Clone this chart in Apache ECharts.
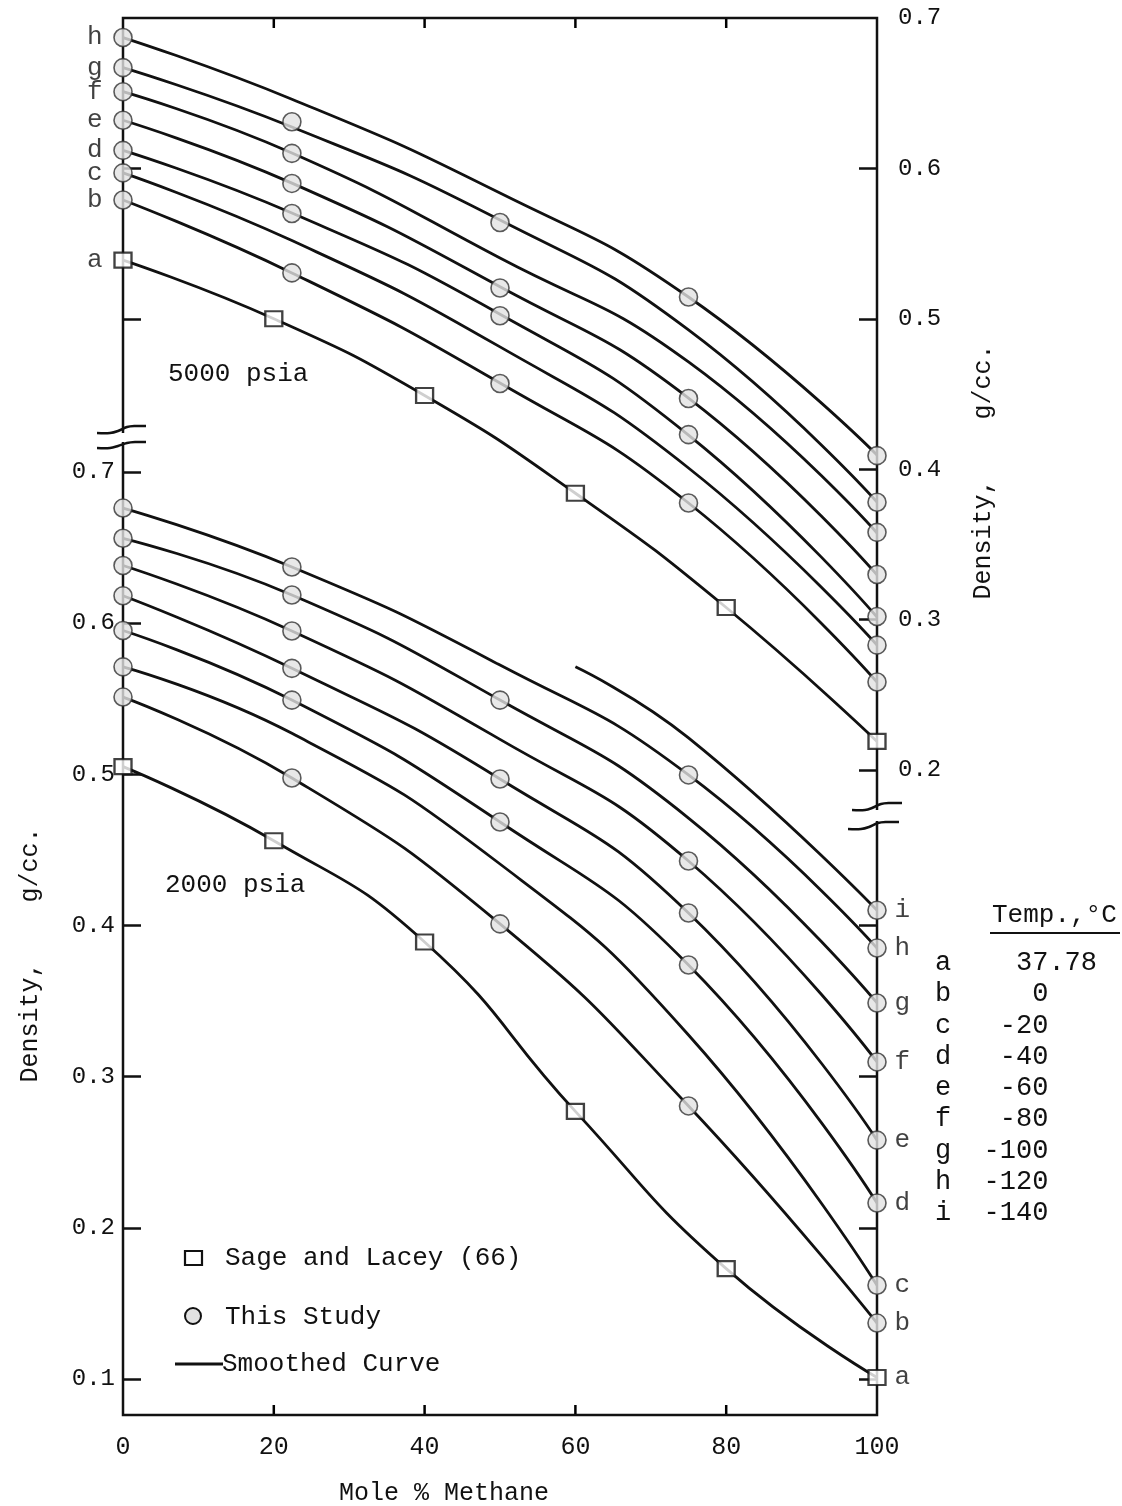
<!DOCTYPE html>
<html><head><meta charset="utf-8">
<script src="https://cdn.jsdelivr.net/npm/echarts@6/dist/echarts.min.js"></script>
<style>html,body{margin:0;padding:0;background:#fff}#c{width:1122px;height:1506px}</style>
</head><body><div id="c"></div>
<script>
// ---------- data ----------
const xMin = 0, xMax = 100, xStep = 20;                          // x axis: 0,20,...,100
const xTickValues = [20, 40, 60, 80];                            // small inner ticks, top and bottom
const leftTickValues = [0.1, 0.2, 0.3, 0.4, 0.5, 0.6, 0.7];      // 2000 psia scale
const leftTopTickValues = [0.5, 0.6];                            // 5000 psia scale, left side
const rightLabelValues = [0.2, 0.3, 0.4, 0.5, 0.6, 0.7];         // 5000 psia scale
const rightTickValues = [0.2, 0.3, 0.4, 0.5, 0.6];
const rightBottomTickValues = [0.1, 0.2, 0.3, 0.4];              // 2000 psia scale, right side

const letters5000 = ['a', 'b', 'c', 'd', 'e', 'f', 'g', 'h'];
const letters2000 = ['a', 'b', 'c', 'd', 'e', 'f', 'g', 'h', 'i'];

// smoothed curves, 5000 psia  [mole % methane, density g/cc]
const curves5000 = [
  [[0, 0.539], [20, 0.500], [40, 0.449], [60, 0.384], [80, 0.308], [100, 0.219]],   // a
  [[0, 0.579], [22.4, 0.5305], [50, 0.4573], [75, 0.3775], [100, 0.2585]],          // b
  [[0, 0.597], [22.4, 0.552], [50, 0.4813], [75, 0.4008], [100, 0.2831]],           // c
  [[0, 0.612], [22.4, 0.5703], [50, 0.5030], [75, 0.4227], [100, 0.3017]],          // d
  [[0, 0.632], [22.4, 0.5902], [50, 0.5213], [75, 0.4473], [100, 0.3297]],          // e
  [[0, 0.651], [22.4, 0.6102], [50, 0.5404], [75, 0.4713], [100, 0.3576]],          // f
  [[0, 0.667], [22.4, 0.6275], [50, 0.5657], [75, 0.4926], [100, 0.3782]],          // g
  [[0, 0.687], [22.4, 0.646], [50, 0.5836], [75, 0.5145], [100, 0.4094]]            // h
];
const study5000 = [
  [0, 0.687], [0, 0.667], [0, 0.651], [0, 0.632], [0, 0.612], [0, 0.597], [0, 0.579],
  [22.4, 0.631], [22.4, 0.610], [22.4, 0.590], [22.4, 0.570], [22.4, 0.5305],
  [50, 0.564], [50, 0.5205], [50, 0.502], [50, 0.457],
  [75, 0.5145], [75, 0.447], [75, 0.423], [75, 0.3775],
  [100, 0.409], [100, 0.378], [100, 0.358], [100, 0.330], [100, 0.302], [100, 0.283], [100, 0.2585]
];
const sage5000 = [[0, 0.539], [20, 0.500], [40, 0.449], [60, 0.384], [80, 0.308], [100, 0.219]];

// smoothed curves, 2000 psia
const curves2000 = [
  [[0, 0.505], [20, 0.456], [40, 0.389], [60, 0.277], [80, 0.173], [100, 0.101]],   // a
  [[0, 0.551], [22.4, 0.4975], [50, 0.401], [75, 0.2806], [100, 0.137]],            // b
  [[0, 0.571], [22.4, 0.527], [50, 0.4406], [75, 0.3275], [100, 0.162]],            // c
  [[0, 0.595], [22.4, 0.549], [50, 0.4684], [75, 0.3738], [100, 0.2164]],           // d
  [[0, 0.618], [22.4, 0.570], [50, 0.4968], [75, 0.4082], [100, 0.258]],            // e
  [[0, 0.638], [22.4, 0.5947], [50, 0.523], [75, 0.4426], [100, 0.3097]],           // f
  [[0, 0.656], [22.4, 0.6185], [50, 0.549], [75, 0.471], [100, 0.3487]],            // g
  [[0, 0.676], [22.4, 0.637], [50, 0.5722], [75, 0.4995], [100, 0.385]],            // h
  [[60, 0.571], [75, 0.524], [100, 0.410]]                                           // i
];
const study2000 = [
  [0, 0.676], [0, 0.656], [0, 0.638], [0, 0.618], [0, 0.595], [0, 0.571], [0, 0.551],
  [22.4, 0.637], [22.4, 0.6185], [22.4, 0.5947], [22.4, 0.570], [22.4, 0.549], [22.4, 0.4975],
  [50, 0.549], [50, 0.4968], [50, 0.4684], [50, 0.401],
  [75, 0.4995], [75, 0.4426], [75, 0.4082], [75, 0.3738], [75, 0.2806],
  [100, 0.410], [100, 0.385], [100, 0.3487], [100, 0.3097], [100, 0.258], [100, 0.2164], [100, 0.162], [100, 0.137]
];
const sage2000 = [[0, 0.505], [20, 0.456], [40, 0.389], [60, 0.277], [80, 0.173], [100, 0.101]];

const tempLetters = ['a', 'b', 'c', 'd', 'e', 'f', 'g', 'h', 'i'];
const tempValues = ['37.78', '0', '-20', '-40', '-60', '-80', '-100', '-120', '-140'];

// ---------- styling ----------
const FONT = '"Liberation Mono", "DejaVu Sans Mono", monospace';
const INK = '#111111';
const Y_LEFT = [0.0762, 1.0001], Y_RIGHT = [-0.2289, 0.7];
const chart = echarts.init(document.getElementById('c'), null, { renderer: 'canvas' });

function yAxis(pos, ext, ticks, labels, margin) {
  return {
    type: 'value', position: pos, min: ext[0], max: ext[1],
    axisLine: { show: false, onZero: false }, splitLine: { show: false },
    axisTick: { show: ticks.length > 0, inside: true, length: 18, customValues: ticks,
      lineStyle: { color: INK, width: 2.5 } },
    axisLabel: { show: labels.length > 0, customValues: labels, margin: margin,
      formatter: v => v.toFixed(1), fontFamily: FONT, fontSize: 24, color: INK }
  };
}
function xAxis(pos, showLabels) {
  return {
    type: 'value', position: pos, min: xMin, max: xMax, interval: xStep,
    axisLine: { show: false, onZero: false }, splitLine: { show: false },
    axisTick: { show: false },
    axisLabel: { show: showLabels, margin: 20, fontFamily: FONT, fontSize: 25, color: INK }
  };
}

const series = [];
function addCurves(curves, yIdx) {
  curves.forEach(d => series.push({
    type: 'line', name: 'Smoothed Curve', xAxisIndex: 0, yAxisIndex: yIdx, data: d,
    smooth: 0.5, showSymbol: false, symbol: 'none',
    lineStyle: { color: INK, width: 2.8 }, z: 2, silent: true
  }));
}
addCurves(curves5000, 1);
addCurves(curves2000, 0);

const circleStyle = { color: '#e2e2e2', borderColor: '#333', borderWidth: 1.6 };
const squareStyle = { color: '#ffffff', borderColor: INK, borderWidth: 2.2 };
series.push({ type: 'scatter', name: 'This Study', yAxisIndex: 1, data: study5000, symbol: 'circle',
  symbolSize: 18, itemStyle: circleStyle, z: 4, clip: false, silent: true });
series.push({ type: 'scatter', name: 'This Study', yAxisIndex: 0, data: study2000, symbol: 'circle',
  symbolSize: 18, itemStyle: circleStyle, z: 4, clip: false, silent: true });
series.push({ type: 'scatter', name: 'Sage and Lacey (66)', yAxisIndex: 1, data: sage5000, symbol: 'rect',
  symbolSize: [17, 15], itemStyle: squareStyle, z: 5, clip: false, silent: true });
series.push({ type: 'scatter', name: 'Sage and Lacey (66)', yAxisIndex: 0, data: sage2000, symbol: 'rect',
  symbolSize: [17, 15], itemStyle: squareStyle, z: 5, clip: false, silent: true });

// short inner ticks on the bottom and top frame, positioned with the x scale
series.push({
  type: 'custom', xAxisIndex: 0, yAxisIndex: 1, clip: false, silent: true, z: 30,
  data: xTickValues.map(v => [v]),
  renderItem: function (params, api) {
    const bot = api.coord([api.value(0), Y_RIGHT[0]]);
    const top = api.coord([api.value(0), Y_RIGHT[1]]);
    return { type: 'group', children: [
      { type: 'line', shape: { x1: bot[0], y1: bot[1] - 1, x2: bot[0], y2: bot[1] - 10 },
        style: { stroke: '#000', lineWidth: 2.5 } },
      { type: 'line', shape: { x1: top[0], y1: top[1] + 1, x2: top[0], y2: top[1] + 10 },
        style: { stroke: '#000', lineWidth: 2.5 } }
    ] };
  }
});

// curve letters
const letterLabel = { show: true, formatter: p => p.name, fontFamily: FONT, fontSize: 26, color: INK };
series.push({ type: 'scatter', yAxisIndex: 1, clip: false, silent: true, symbolSize: 1,
  itemStyle: { color: 'rgba(0,0,0,0)' }, z: 6,
  data: curves5000.map((c, i) => ({ name: letters5000[i], value: c[0] })),
  label: Object.assign({ position: 'left', distance: 20 }, letterLabel) });
series.push({ type: 'scatter', yAxisIndex: 0, clip: false, silent: true, symbolSize: 1,
  itemStyle: { color: 'rgba(0,0,0,0)' }, z: 6,
  data: curves2000.map((c, i) => ({ name: letters2000[i], value: c[c.length - 1] })),
  label: Object.assign({ position: 'right', distance: 17 }, letterLabel) });

// ---------- decorations ----------
function txt(text, x, y, size, align, extra) {
  return Object.assign({ type: 'text', z: 20, silent: true,
    style: { text: text, x: x, y: y, font: size + 'px ' + FONT, fill: INK,
      align: align, textAlign: align, verticalAlign: 'middle', textVerticalAlign: 'middle' } }, extra || {});
}
function brk(pts) {
  return { type: 'polyline', z: 21, silent: true, shape: { points: pts, smooth: 0.35 },
    style: { stroke: INK, lineWidth: 2.5, fill: null } };
}
const graphics = [
  // axis breaks
  { type: 'rect', z: 19, silent: true, shape: { x: 117, y: 433, width: 12, height: 9 }, style: { fill: '#fff' } },
  brk([[97, 433], [110, 433], [118, 431], [127, 427], [135, 426], [146, 426]]),
  brk([[97, 448], [110, 448], [118, 446], [127, 443], [135, 442], [146, 442]]),
  { type: 'rect', z: 19, silent: true, shape: { x: 871, y: 810, width: 12, height: 11 }, style: { fill: '#fff' } },
  brk([[852, 810], [865, 810], [872, 808], [881, 804], [889, 803], [902, 803]]),
  brk([[848, 829], [861, 829], [869, 827], [878, 823], [886, 822], [899, 822]]),
  // panel captions
  txt('5000 psia', 168, 374, 26, 'left'),
  txt('2000 psia', 165, 885, 26, 'left'),
  // axis titles
  txt('Density,    g/cc.', 0, 0, 25, 'center', { x: 30, y: 955, rotation: Math.PI / 2 }),
  txt('Density,    g/cc.', 0, 0, 25, 'center', { x: 983, y: 472, rotation: Math.PI / 2 }),
  txt('Mole % Methane', 444, 1493, 25, 'center'),
  // legend
  { type: 'rect', z: 20, silent: true, shape: { x: 185, y: 1251, width: 17, height: 14 },
    style: { fill: '#fff', stroke: INK, lineWidth: 2.2 } },
  txt('Sage and Lacey (66)', 225, 1258, 26, 'left'),
  { type: 'circle', z: 20, silent: true, shape: { cx: 193, cy: 1316, r: 8 },
    style: { fill: '#e2e2e2', stroke: INK, lineWidth: 2 } },
  txt('This Study', 225, 1317, 26, 'left'),
  { type: 'line', z: 20, silent: true, shape: { x1: 175, y1: 1364, x2: 223, y2: 1364 },
    style: { stroke: INK, lineWidth: 2.8 } },
  txt('Smoothed Curve', 222, 1364, 26, 'left'),
  // temperature table
  txt('Temp.,\u00B0C', 992, 915, 26, 'left'),
  { type: 'line', z: 20, silent: true, shape: { x1: 990, y1: 933, x2: 1120, y2: 933 },
    style: { stroke: INK, lineWidth: 2 } }
];
tempLetters.forEach((l, i) => {
  const v = tempValues[i];
  const intLen = v.split('.')[0].length;
  const row = l + ' '.repeat(Math.max(1, 6 - intLen)) + v;
  graphics.push(txt(row, 935, 963 + 31.25 * i, 27, 'left'));
});

chart.setOption({
  animation: false,
  backgroundColor: '#ffffff',
  grid: { left: 123, right: 245, top: 18, bottom: 91, show: true, borderColor: INK, borderWidth: 2.5,
    backgroundColor: 'transparent', containLabel: false, outerBoundsMode: 'none' },
  xAxis: [xAxis('bottom', true), xAxis('top', false)],
  yAxis: [
    yAxis('left', Y_LEFT, leftTickValues, leftTickValues, 8),
    yAxis('right', Y_RIGHT, rightTickValues, rightLabelValues, 21),
    yAxis('left', Y_RIGHT, leftTopTickValues, [], 8),
    yAxis('right', Y_LEFT, rightBottomTickValues, [], 21)
  ],
  series: series,
  graphic: { elements: graphics }
});
</script></body></html>
